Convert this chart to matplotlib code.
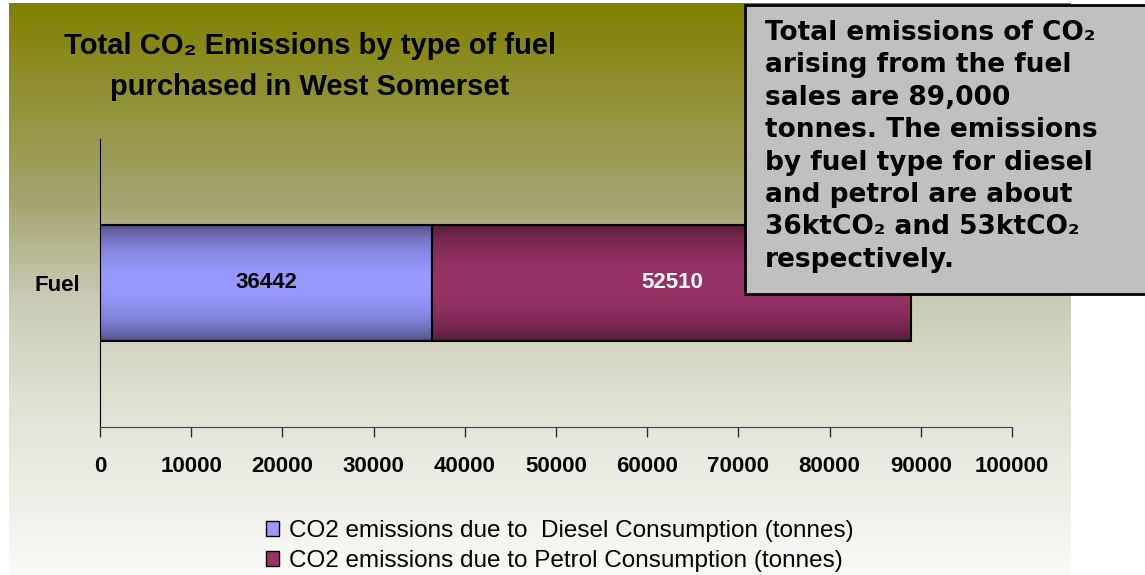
import matplotlib
matplotlib.use('Agg')
import matplotlib.pyplot as plt
from matplotlib.patches import Patch, Rectangle
import numpy as np

# data
category = ['Fuel']
series_names = ['CO2 emissions due to  Diesel Consumption (tonnes)',
                'CO2 emissions due to Petrol Consumption (tonnes)']
diesel = [36442]
petrol = [52510]
x_ticks = [0, 10000, 20000, 30000, 40000, 50000, 60000, 70000, 80000, 90000, 100000]

title_lines = ['Total CO\u2082 Emissions by type of fuel', 'purchased in West Somerset']
note = ('Total emissions of CO\u2082\narising from the fuel\nsales are 89,000\n'
        'tonnes. The emissions\nby fuel type for diesel\nand petrol are about\n'
        '36ktCO\u2082 and 53ktCO\u2082\nrespectively.')

W, H = 1145, 575
arial = ['Liberation Sans', 'DejaVu Sans']

fig = plt.figure(figsize=(W / 100, H / 100), dpi=100)
fig.patch.set_facecolor('white')

# gradient chart area background (olive -> near white)
bg = fig.add_axes([9 / W, 0, 1062 / W, 572 / H], zorder=-10)
t = np.linspace(0, 1, 400)
stops = [0.0, 0.35, 0.52, 0.75, 1.0]
r = np.interp(t, stops, [128, 165, 203, 230, 250])
b = np.interp(t, stops, [0, 115, 184, 220, 247])
grad = np.stack([r, r, b], axis=1)[:, None, :] / 255.0
bg.imshow(grad, aspect='auto', extent=[0, 1, 0, 1])
bg.axis('off')

# main axes
ax = fig.add_axes([100 / W, 1 - 427 / H, 912 / W, 288 / H])
ax.set_facecolor('none')

def shade(center, edge):
    s = np.linspace(0, 1, 200)
    k = np.sin(np.pi * s) ** 0.6
    c = np.array(edge)[None, :] + (np.array(center) - np.array(edge))[None, :] * k[:, None]
    return (c / 255.0)[:, None, :]

bar_h = 0.4
c1 = ax.barh(category, diesel, height=bar_h, facecolor='none', edgecolor='black', linewidth=1.5, zorder=3)
c2 = ax.barh(category, petrol, left=diesel, height=bar_h, facecolor='none', edgecolor='black', linewidth=1.5, zorder=3)

for cont, center, edge in [(c1, (153, 153, 255), (70, 70, 120)), (c2, (153, 51, 102), (75, 25, 52))]:
    for p in cont.patches:
        x0, y0, w, h = p.get_x(), p.get_y(), p.get_width(), p.get_height()
        im = ax.imshow(shade(center, edge), extent=[x0, x0 + w, y0, y0 + h], aspect='auto', zorder=2)
        im.set_clip_path(p)

ax.bar_label(c1, labels=[str(v) for v in diesel], label_type='center', fontsize=16,
             fontweight='bold', family=arial, color='black', zorder=5)
ax.bar_label(c2, labels=[str(v) for v in petrol], label_type='center', fontsize=16,
             fontweight='bold', family=arial, color='white', zorder=5)

ax.set_xlim(0, 100000)
ax.set_ylim(-0.5, 0.5)
ax.set_xticks(x_ticks)
ax.set_xticklabels([str(v) for v in x_ticks], fontsize=16, fontweight='bold', family=arial)
ax.tick_params(axis='x', length=7, width=1, color='#333333', pad=14)
ax.tick_params(axis='y', length=0, pad=14)
for lab in ax.get_yticklabels():
    lab.set_fontsize(16)
    lab.set_fontweight('bold')
    lab.set_family(arial)
for s in ['top', 'right']:
    ax.spines[s].set_visible(False)
ax.spines['left'].set_color('black')
ax.spines['bottom'].set_color('#444444')

# title
fig.text(310 / W, 1 - 46 / H, title_lines[0], ha='center', va='center', fontsize=21,
         fontweight='bold', family=arial)
fig.text(310 / W, 1 - 87 / H, title_lines[1], ha='center', va='center', fontsize=21,
         fontweight='bold', family=arial)

# note box
fig.patches.append(Rectangle((745 / W, 1 - 294 / H), 420 / W, 289 / H, transform=fig.transFigure,
                             facecolor='#C0C0C0', edgecolor='black', linewidth=2, zorder=10))
fig.text(765 / W, 1 - 20 / H, note, ha='left', va='top', fontsize=19, fontweight='bold',
         family='DejaVu Sans', linespacing=1.32, zorder=11)

# legend
handles = [Patch(facecolor='#9999FF', edgecolor='black'), Patch(facecolor='#993366', edgecolor='black')]
fig.legend(handles, series_names, loc='upper left', bbox_to_anchor=(266 / W, 1 - 520 / H),
           frameon=False, prop={'family': arial, 'size': 17.5}, handlelength=0.55, handleheight=0.55,
           handletextpad=0.4, labelspacing=0.32, borderpad=0, borderaxespad=0)

fig.savefig('out.png', dpi=100)
